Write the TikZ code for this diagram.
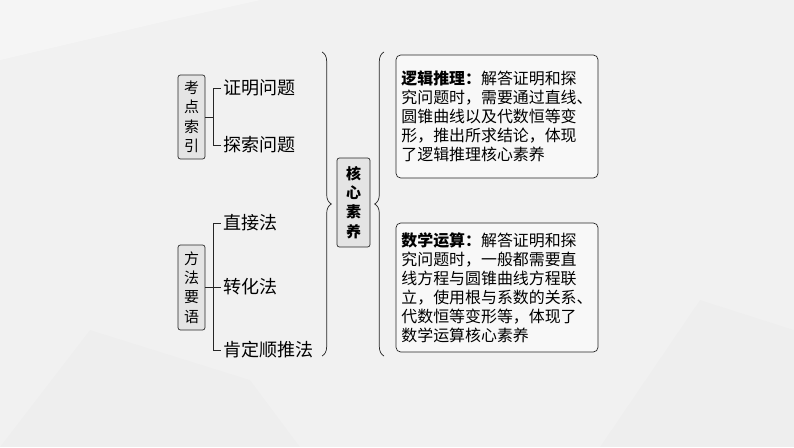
\documentclass[tikz,border=0pt]{standalone}
\usepackage{fontspec}
\setmainfont{Noto Sans CJK SC}
\usepackage{tikz}
\usetikzlibrary{decorations.pathreplacing}
\definecolor{bggray}{HTML}{F1F1F1}
\definecolor{boxgray}{HTML}{E4E4E4}
\definecolor{infogray}{HTML}{F8F8F8}
\tikzset{
  catbox/.style={draw=black!85,line width=0.6pt,rounded corners=2pt,fill=boxgray,align=center,inner sep=1pt,
    minimum width=0.81cm,font=\fontsize{12.8pt}{16.6pt}\selectfont},
  item/.style={anchor=west,inner sep=2pt,font=\fontsize{15.4pt}{18pt}\selectfont},
  infobox/.style={draw=black!85,line width=0.6pt,rounded corners=4pt,fill=infogray,align=left,
    minimum width=6.06cm,minimum height=3.69cm,font=\fontsize{13.6pt}{16.2pt}\selectfont},
  wire/.style={black!85,line width=0.6pt},
  brc/.style={black!85,line width=0.6pt,decorate,decoration={brace,amplitude=8pt}}
}
\begin{document}
\begin{tikzpicture}[x=0.03cm,y=-0.03cm]
  \fill[bggray] (0,0) rectangle (794,447);
  \useasboundingbox (0,0) rectangle (794,447);
  \fill[white,opacity=0.35] (0,60) -- (170,20) -- (260,0) -- (0,0) -- cycle;
  \fill[black,opacity=0.012] (0,447) -- (90,330) -- (250,380) -- (300,447) -- cycle;
  \fill[black,opacity=0.012] (600,447) -- (700,300) -- (794,330) -- (794,447) -- cycle;
  \node[catbox,minimum height=2.52cm] (kd) at (191.5,117) {考\\点\\索\\引};
  \node[catbox,minimum height=2.55cm] (ff) at (191.5,287.5) {方\\法\\要\\语};
  \node[catbox,minimum width=0.99cm,minimum height=2.67cm,font=\fontsize{12.8pt}{16.6pt}\selectfont\bfseries] (hx) at (353.5,202.5) {核\\心\\素\\养};
  \foreach \t/\y/\n in {证明问题/88/1,探索问题/145/2}
  	{\node[item] (k\n) at (221,\y) {\t};
  	 \draw[wire] (kd.east) -- ++(8,0) |- (k\n.west);}
  \foreach \t/\y/\n in {直接法/223/1,转化法/287/2,肯定顺推法/350/3}
  	{\node[item] (f\n) at (221,\y) {\t};
  	 \draw[wire] (ff.east) -- ++(8,0) |- (f\n.west);}
  \coordinate (rt) at (322,52);
  \coordinate (rb) at (322,356);
  \coordinate (lt) at (384,52);
  \coordinate (lb) at (384,356);
  \draw[brc] (rt) -- (rb);
  \draw[brc] (lb) -- (lt);
  \node[infobox] (lj) at (497,116.5) {\textbf{逻辑推理：}解答证明和探\\究问题时，需要通过直线、\\圆锥曲线以及代数恒等变\\形，推出所求结论，体现\\了逻辑推理核心素养};
  \node[infobox,minimum height=3.87cm] (sx) at (497,287.5) {\textbf{数学运算：}解答证明和探\\究问题时，一般都需要直\\线方程与圆锥曲线方程联\\立，使用根与系数的关系、\\代数恒等变形等，体现了\\数学运算核心素养};
\end{tikzpicture}
\end{document}
